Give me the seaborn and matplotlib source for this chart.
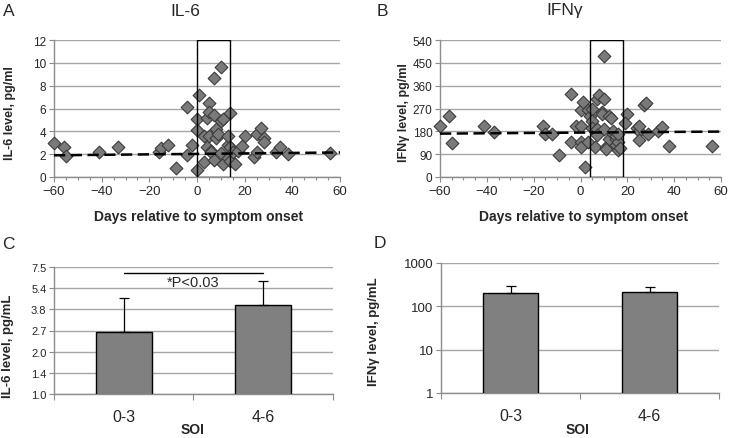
import numpy as np
import pandas as pd
import matplotlib
matplotlib.use("Agg")
import matplotlib.pyplot as plt
from matplotlib.patches import Rectangle
from matplotlib.ticker import FixedLocator, MultipleLocator, NullFormatter, NullLocator
import seaborn as sns

# ---------------- data ----------------
days_a = [-60, -56, -55, -41, -33, -16, -15, -12, -9, -4, -4, -2, 0, 0, 0, 1, 3, 3, 4, 4,
          5, 5, 5, 6, 6, 7, 7, 7, 8, 8, 9, 10, 10, 10, 11, 11, 13, 13, 14, 13,
          14, 14, 15, 16, 17, 19, 20, 24, 25, 25, 27, 28, 28, 33, 35, 38, 56]
il6_a = [3.0, 2.6, 1.8, 2.2, 2.6, 2.2, 2.5, 2.8, 0.8, 6.1, 1.9, 2.8, 5.1, 4.1, 0.6, 7.2, 3.6, 1.3, 5.2, 2.6,
         3.6, 6.5, 5.7, 2.3, 2.2, 8.7, 5.4, 1.5, 3.4, 4.2, 3.8, 9.6, 4.9, 2.1, 1.1, 5.1, 2.8, 1.7, 5.6, 3.6,
         2.6, 1.4, 2.2, 1.1, 2.3, 2.7, 3.6, 1.75, 3.8, 2.2, 4.3, 3.4, 3.1, 2.2, 2.6, 2.0, 2.1]

days_b = [-60, -56, -55, -41, -37, -16, -15, -12, -9, -4, -4, -2, 0, 0, 0, 0, 1, 2, 3, 3,
          4, 5, 5, 5, 6, 6, 7, 7, 7, 8, 9, 9, 10, 10, 10, 11, 11, 12, 12, 13,
          14, 14, 15, 15, 15, 16, 16, 17, 16, 20, 19, 24, 25, 25, 25, 27, 28, 29, 33, 35, 38, 56]
ifn_b = [200, 240, 133, 200, 179, 200, 169, 168, 85, 327, 136, 200, 200, 265, 136, 118, 295, 38, 136, 265,
         241, 267, 221, 195, 182, 118, 307, 188, 165, 323, 258, 248, 309, 475, 191, 120, 112, 241, 149, 234,
         170, 182, 149, 125, 162, 136, 107, 116, 169, 248, 212, 195, 182, 200, 146, 285, 292, 171, 182, 198, 122, 122]

trend_x = [-60, 60]
trend_a = [1.9, 2.15]
trend_b = [171, 179]
window_a = [0, 14]
window_b = [4, 18]

soi_cats = ["0-3", "4-6"]
il6_mean = [2.7, 4.09]
il6_upper = [4.59, 6.07]
ifn_mean = [200, 218]
ifn_upper = [295, 279]

x_ticks = [-60, -40, -20, 0, 20, 40, 60]
a_yticks = [0, 2, 4, 6, 8, 10, 12]
b_yticks = [0, 90, 180, 270, 360, 450, 540]
c_ytick_labels = ["1.0", "1.4", "2.0", "2.7", "3.8", "5.4", "7.5"]
d_yticks = [1, 10, 100, 1000]

# ---------------- style ----------------
sns.set_theme(style="white")
plt.rcParams["font.family"] = ["Liberation Sans", "DejaVu Sans"]

W, H = 730, 439
fig = plt.figure(figsize=(W / 100, H / 100), dpi=100)

def ax_px(l, r, t, b):
    return fig.add_axes([l / W, 1 - b / H, (r - l) / W, (b - t) / H])

def label_at(axis, x, y):
    axis.set_label_coords(x / W, 1 - y / H, transform=fig.transFigure)
    axis.label.set_verticalalignment("center")
    axis.label.set_horizontalalignment("center")

GRID = "#a6a6a6"
SPINE = "#8c8c8c"

def style_axes(ax, ylabelsize=8.5):
    for s in ["top", "right"]:
        ax.spines[s].set_visible(False)
    for s in ["left", "bottom"]:
        ax.spines[s].set_color(SPINE)
        ax.spines[s].set_linewidth(1.0)
    ax.tick_params(axis="both", which="both", direction="out", color=SPINE, width=0.8,
                   bottom=True, left=True)
    ax.tick_params(axis="both", which="major", length=3.5, pad=2)
    ax.tick_params(axis="x", which="minor", length=2.5)
    ax.tick_params(axis="y", labelsize=ylabelsize)
    ax.yaxis.grid(True, color=GRID, linewidth=1.0)
    ax.xaxis.grid(False)
    ax.set_axisbelow(True)

def scatter_panel(ax, days, vals, trend, window, yticks, ylabel):
    sns.scatterplot(x=days, y=vals, ax=ax, marker="D", s=42, color="#7a7a7a",
                    edgecolor="#3c3c3c", linewidth=0.8, legend=False, zorder=3, clip_on=False)
    sns.lineplot(x=trend_x, y=trend, ax=ax, color="black", linewidth=1.8,
                 dashes=False, zorder=4)
    ax.lines[-1].set_dashes((4.5, 2.2))
    ax.add_patch(Rectangle((window[0], yticks[0]), window[1] - window[0], yticks[-1] - yticks[0],
                           fill=False, edgecolor="black", linewidth=1.0, zorder=5))
    ax.set_xlim(x_ticks[0], x_ticks[-1])
    ax.set_ylim(yticks[0], yticks[-1])
    ax.set_xticks(x_ticks)
    ax.set_yticks(yticks)
    ax.xaxis.set_minor_locator(MultipleLocator(5))
    style_axes(ax)
    ax.tick_params(axis="x", labelsize=9.5)
    ax.set_xlabel("Days relative to symptom onset", fontsize=10, fontweight="bold")
    ax.set_ylabel(ylabel, fontsize=9, fontweight="bold")

# Panel A
axA = ax_px(54, 340, 41, 178)
scatter_panel(axA, days_a, il6_a, trend_a, window_a, a_yticks, "IL-6 level, pg/ml")
label_at(axA.xaxis, 199, 217)
label_at(axA.yaxis, 10, 113)
# Panel B
axB = ax_px(440, 721, 41, 178)
scatter_panel(axB, days_b, ifn_b, trend_b, window_b, b_yticks, "IFN\u03b3 level, pg/ml")
label_at(axB.xaxis, 584, 217)
label_at(axB.yaxis, 404, 113)

def bar_panel(ax, means, uppers, ylabel):
    df = pd.DataFrame({"SOI": soi_cats, "val": means})
    sns.barplot(data=df, x="SOI", y="val", ax=ax, color="#808080", width=0.4,
                edgecolor="black", linewidth=1.0, errorbar=None, saturation=1, zorder=3)
    pos = np.arange(len(soi_cats))
    err = np.array(uppers) - np.array(means)
    ax.errorbar(pos, means, yerr=[np.zeros_like(err), err], fmt="none", ecolor="black",
                elinewidth=0.9, capsize=3.5, capthick=0.9, zorder=4)
    ax.set_xlim(-0.5, len(soi_cats) - 0.5)
    ax.xaxis.set_major_locator(FixedLocator([-0.5, 0.5, 1.5]))
    ax.xaxis.set_major_formatter(NullFormatter())
    ax.xaxis.set_minor_locator(FixedLocator(pos))
    ax.set_xticks(pos, minor=True)
    ax.set_xticklabels(soi_cats, minor=True)
    style_axes(ax)
    ax.tick_params(axis="x", which="minor", length=0, labelsize=11.5, pad=11)
    ax.tick_params(axis="x", which="major", length=4)
    ax.set_xlabel("SOI", fontsize=10, fontweight="bold")
    ax.set_ylabel(ylabel, fontsize=9.5, fontweight="bold")

# Panel C
axC = ax_px(54, 333, 268, 395)
bar_panel(axC, il6_mean, il6_upper, "IL-6 level, pg/mL")
axC.set_yscale("log", base=1.4)
axC.set_ylim(1, 1.4 ** 6)
axC.yaxis.set_major_locator(FixedLocator([1.4 ** k for k in range(7)]))
axC.yaxis.set_minor_locator(NullLocator())
axC.set_yticklabels(c_ytick_labels)
axC.tick_params(axis="y", labelsize=8)
axC.plot([0, 1], [1.4 ** 5.72, 1.4 ** 5.72], color="black", linewidth=1.0, zorder=5)
axC.text(0.5, 1.4 ** 5.29, "*P<0.03", ha="center", va="center", fontsize=10.5, zorder=6)
label_at(axC.xaxis, 193, 430)
label_at(axC.yaxis, 8, 346)

# Panel D
axD = ax_px(441, 719, 264, 394)
bar_panel(axD, ifn_mean, ifn_upper, "IFN\u03b3 level, pg/mL")
axD.set_yscale("log")
axD.set_ylim(d_yticks[0], d_yticks[-1])
axD.yaxis.set_major_locator(FixedLocator(d_yticks))
axD.yaxis.set_minor_locator(NullLocator())
axD.set_yticklabels([str(v) for v in d_yticks])
axD.tick_params(axis="y", labelsize=9.5)
label_at(axD.xaxis, 578, 430)
label_at(axD.yaxis, 374, 332)

# Titles and panel letters
def ftext(x, y, s, **kw):
    fig.text(x / W, 1 - y / H, s, **kw)

ftext(185, 11, "IL-6", ha="center", va="center", fontsize=12.5)
ftext(565, 11, "IFN\u03b3", ha="center", va="center", fontsize=12.5)
ftext(3, 11, "A", ha="left", va="center", fontsize=12.5)
ftext(377, 11, "B", ha="left", va="center", fontsize=12.5)
ftext(2, 245, "C", ha="left", va="center", fontsize=12.5)
ftext(374, 244, "D", ha="left", va="center", fontsize=12.5)

fig.savefig("out.png", dpi=100)
